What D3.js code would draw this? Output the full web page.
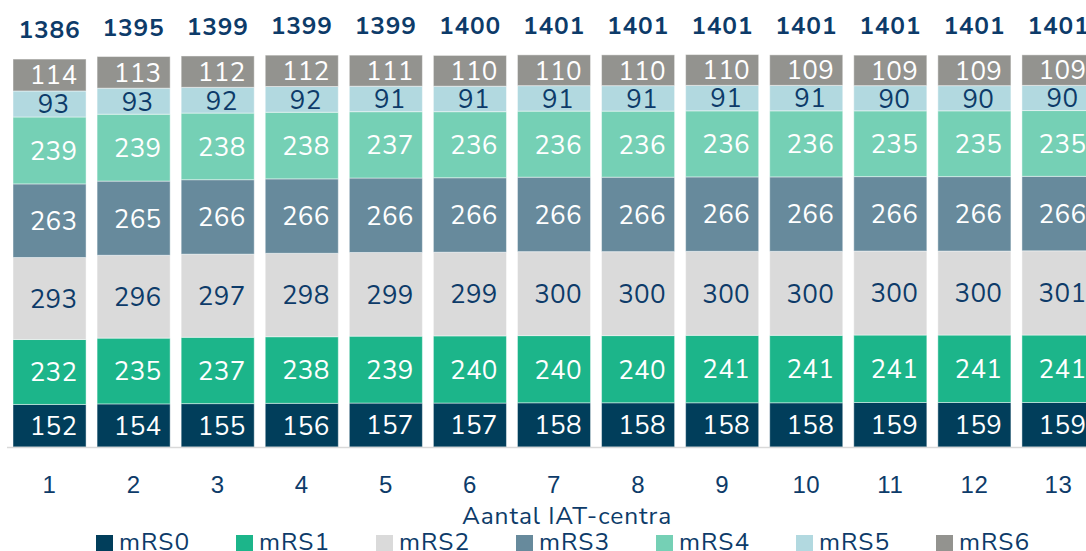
<!DOCTYPE html>
<html>
<head>
<meta charset="utf-8">
<script src="https://cdn.jsdelivr.net/npm/d3@7"></script>
<style>
  html, body { margin: 0; padding: 0; background: #fff; overflow: hidden; }
  svg { display: block; font-family: "Nunito Sans", Lato, "Open Sans", sans-serif; }
</style>
</head>
<body>
<div id="chart"></div>
<script>
// number of IAT centres on the x axis
const centra = [1, 2, 3, 4, 5, 6, 7, 8, 9, 10, 11, 12, 13];

// patients per mRS class, one value per column
const mRS0 = [152, 154, 155, 156, 157, 157, 158, 158, 158, 158, 159, 159, 159];
const mRS1 = [232, 235, 237, 238, 239, 240, 240, 240, 241, 241, 241, 241, 241];
const mRS2 = [293, 296, 297, 298, 299, 299, 300, 300, 300, 300, 300, 300, 301];
const mRS3 = [263, 265, 266, 266, 266, 266, 266, 266, 266, 266, 266, 266, 266];
const mRS4 = [239, 239, 238, 238, 237, 236, 236, 236, 236, 236, 235, 235, 235];
const mRS5 = [93, 93, 92, 92, 91, 91, 91, 91, 91, 91, 90, 90, 90];
const mRS6 = [114, 113, 112, 112, 111, 110, 110, 110, 110, 109, 109, 109, 109];

// totals as printed above the bars
const totals = [1386, 1395, 1399, 1399, 1399, 1400, 1401, 1401, 1401, 1401, 1401, 1401, 1401];

const seriesNames = ["mRS0", "mRS1", "mRS2", "mRS3", "mRS4", "mRS5", "mRS6"];
const seriesValues = [mRS0, mRS1, mRS2, mRS3, mRS4, mRS5, mRS6];

const colors = {
    mRS0: "#013e5b",
    mRS1: "#1cb58a",
    mRS2: "#dadada",
    mRS3: "#678a9c",
    mRS4: "#75d0b5",
    mRS5: "#b2d9e0",
    mRS6: "#93938f"
};
const darkText = "#0d3b69";
// labels that sit on light segments are dark
const labelColor = {
    mRS0: "#fff", mRS1: "#fff", mRS2: darkText, mRS3: "#fff",
    mRS4: "#fff", mRS5: darkText, mRS6: "#fff"
};

const width = 1086;
const height = 551;

// build rows for d3.stack
const rows = centra.map((c, i) => {
    const row = { centra: c };
    seriesNames.forEach((name, j) => { row[name] = seriesValues[j][i]; });
    return row;
});

const stacked = d3.stack().keys(seriesNames)(rows);

const x = d3.scaleBand()
    .domain(centra)
    .range([7.5, 1100.5])
    .paddingInner(0.131)
    .paddingOuter(0.0655);

const y = d3.scaleLinear()
    .domain([0, 1400])
    .range([447, 447 - 1400 * 0.2799]);

const svg = d3.select("#chart").append("svg")
    .attr("width", width)
    .attr("height", height);

// stacked segments
const layer = svg.selectAll("g.layer")
    .data(stacked)
    .join("g")
    .attr("class", "layer")
    .attr("fill", d => colors[d.key]);

layer.selectAll("rect")
    .data(d => d)
    .join("rect")
    .attr("x", d => x(d.data.centra))
    .attr("y", d => y(d[1]))
    .attr("width", x.bandwidth())
    .attr("height", d => y(d[0]) - y(d[1]))
    .attr("stroke", "#ffffff")
    .attr("stroke-opacity", 0.45)
    .attr("stroke-width", 1);

// value labels inside segments
stacked.forEach(s => {
    svg.append("g")
        .selectAll("text")
        .data(s)
        .join("text")
        .attr("x", d => x(d.data.centra) + x.bandwidth() / 2 + 4)
        .attr("y", d => (y(d[0]) + y(d[1])) / 2)
        .attr("dy", "0.36em")
        .attr("text-anchor", "middle")
        .attr("font-size", "26px")
        .attr("letter-spacing", "0.3px")
        .attr("fill", labelColor[s.key])
        .text(d => d[1] - d[0]);
});

// totals above the bars
const topLayer = stacked[stacked.length - 1];
svg.append("g")
    .selectAll("text")
    .data(topLayer)
    .join("text")
    .attr("x", d => x(d.data.centra) + x.bandwidth() / 2)
    .attr("y", d => y(d[1]) - 21)
    .attr("text-anchor", "middle")
    .attr("font-size", "24.5px")
    .attr("letter-spacing", "0.8px")
    .attr("font-weight", "bold")
    .attr("fill", darkText)
    .text((d, i) => totals[i]);

// baseline
svg.append("line")
    .attr("x1", 7)
    .attr("x2", width)
    .attr("y1", 447.5)
    .attr("y2", 447.5)
    .attr("stroke", "#d9d9d9")
    .attr("stroke-width", 1.5);

// x axis tick labels
const xAxis = svg.append("g")
    .attr("transform", "translate(0,447)")
    .call(d3.axisBottom(x).tickSize(0).tickPadding(0));
xAxis.select(".domain").remove();
xAxis.selectAll("text")
    .attr("y", 46)
    .attr("dy", 0)
    .attr("font-family", "inherit")
    .attr("font-size", "24px")
    .attr("letter-spacing", "0.5px")
    .attr("fill", darkText);

// axis title
svg.append("text")
    .attr("x", 567)
    .attr("y", 524)
    .attr("text-anchor", "middle")
    .attr("font-size", "24.5px")
    .attr("letter-spacing", "0.9px")
    .attr("fill", darkText)
    .text("Aantal IAT-centra");

// legend
const legend = svg.append("g")
    .selectAll("g")
    .data(seriesNames)
    .join("g")
    .attr("transform", (d, i) => `translate(${96 + 140 * i},535)`);

legend.append("rect")
    .attr("width", 17)
    .attr("height", 17)
    .attr("fill", d => colors[d]);

legend.append("text")
    .attr("x", 23)
    .attr("y", 15)
    .attr("font-size", "24.5px")
    .attr("letter-spacing", "1px")
    .attr("fill", darkText)
    .text(d => d);
</script>
</body>
</html>
